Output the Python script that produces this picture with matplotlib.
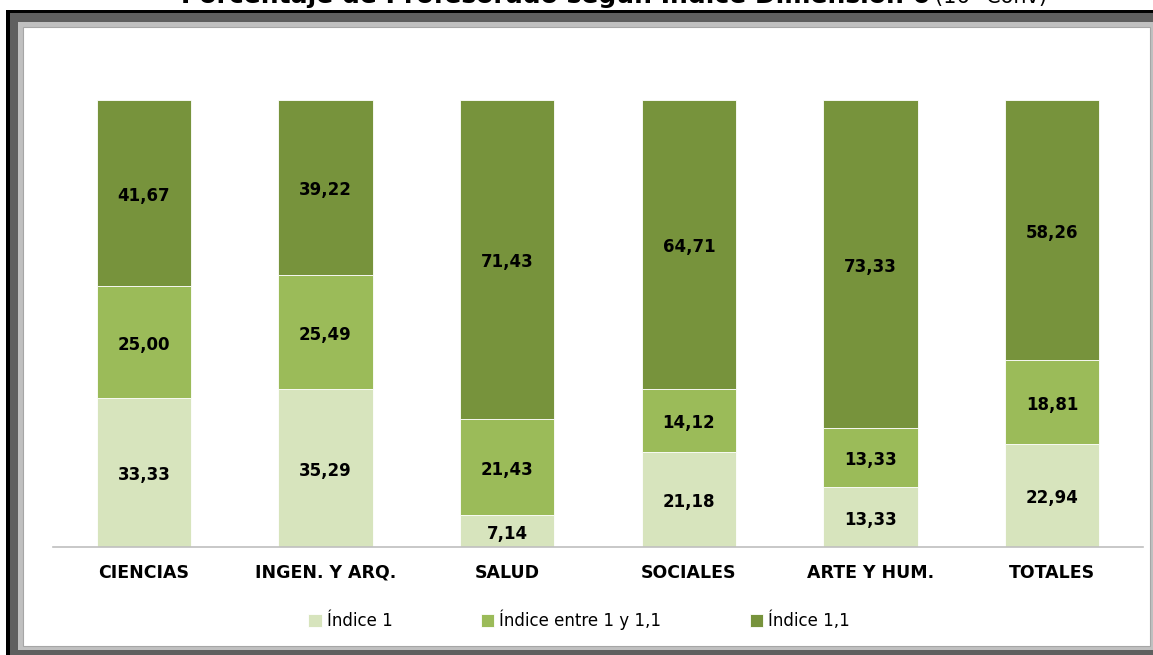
import matplotlib.pyplot as plt
from matplotlib.patches import Rectangle
import numpy as np

categories = ['CIENCIAS', 'INGEN. Y ARQ.', 'SALUD', 'SOCIALES', 'ARTE Y HUM.', 'TOTALES']
indice1 = [33.33, 35.29, 7.14, 21.18, 13.33, 22.94]
entre = [25.00, 25.49, 21.43, 14.12, 13.33, 18.81]
indice11 = [41.67, 39.22, 71.43, 64.71, 73.33, 58.26]
series_names = ['Índice 1', 'Índice entre 1 y 1,1', 'Índice 1,1']
colors = ['#D7E4BD', '#9BBB59', '#77933C']

W, H = 1153, 655
fig = plt.figure(figsize=(W / 100, H / 100), dpi=100)
fig.patch.set_facecolor('white')

def px(x, y, w, h):
    # pixel box (top-left origin) -> figure fraction
    return (x / W, 1 - (y + h) / H), w / W, h / H

def box(x, y, w, h, fc, ec='none', lw=0):
    xy, ww, hh = px(x, y, w, h)
    fig.patches.append(Rectangle(xy, ww, hh, transform=fig.transFigure,
                                 facecolor=fc, edgecolor=ec, linewidth=lw, zorder=-10))

# frame
box(6, 10, 1200, 700, '#000000')
box(10, 13, 1200, 700, '#5F5F5F')
box(18, 22, 1135, 628, '#C0C0C0')
box(23, 27, 1127, 619, '#FFFFFF', ec='#A6A6A6', lw=0.8)

# title (cut at top, as in the source image)
fig.text(930 / W, 1 - 3 / H, 'Porcentaje de Profesorado según Índice Dimensión 6',
         ha='right', va='baseline', fontsize=18, fontweight='bold', color='black')
fig.text(935 / W, 1 - 3 / H, '(16ª Conv)', ha='left', va='baseline',
         fontsize=15, color='black')

ax = fig.add_axes([53 / W, 1 - 547 / H, (1143 - 53) / W, (547 - 100) / H])
ax.set_facecolor('none')
x = np.arange(len(categories))
bottom = np.zeros(len(categories))
for vals, name, col in zip([indice1, entre, indice11], series_names, colors):
    vals = np.array(vals)
    ax.bar(x, vals, 0.52, bottom=bottom, color=col, edgecolor='white', linewidth=0.6, label=name)
    for xi, b, v in zip(x, bottom, vals):
        ax.text(xi, b + v / 2 - 0.6, f'{v:.2f}'.replace('.', ','), ha='center', va='center',
                fontsize=12, fontweight='bold', color='black')
    bottom += vals

ax.set_xlim(-0.5, len(categories) - 0.5)
ax.set_ylim(0, 100)
ax.set_yticks([])
ax.set_xticks(x)
ax.set_xticklabels(categories, fontsize=12.5, fontweight='bold')
ax.tick_params(axis='x', length=0, pad=12)
for s in ['top', 'right', 'left']:
    ax.spines[s].set_visible(False)
ax.spines['bottom'].set_color('#BFBFBF')
ax.spines['bottom'].set_linewidth(1.2)

fig.legend(loc='center', bbox_to_anchor=(579 / W, 1 - 620 / H), ncol=3, frameon=False,
           fontsize=12, handlelength=0.8, handleheight=0.8, handletextpad=0.3,
           columnspacing=5.3)

fig.savefig('out.png', dpi=100)
